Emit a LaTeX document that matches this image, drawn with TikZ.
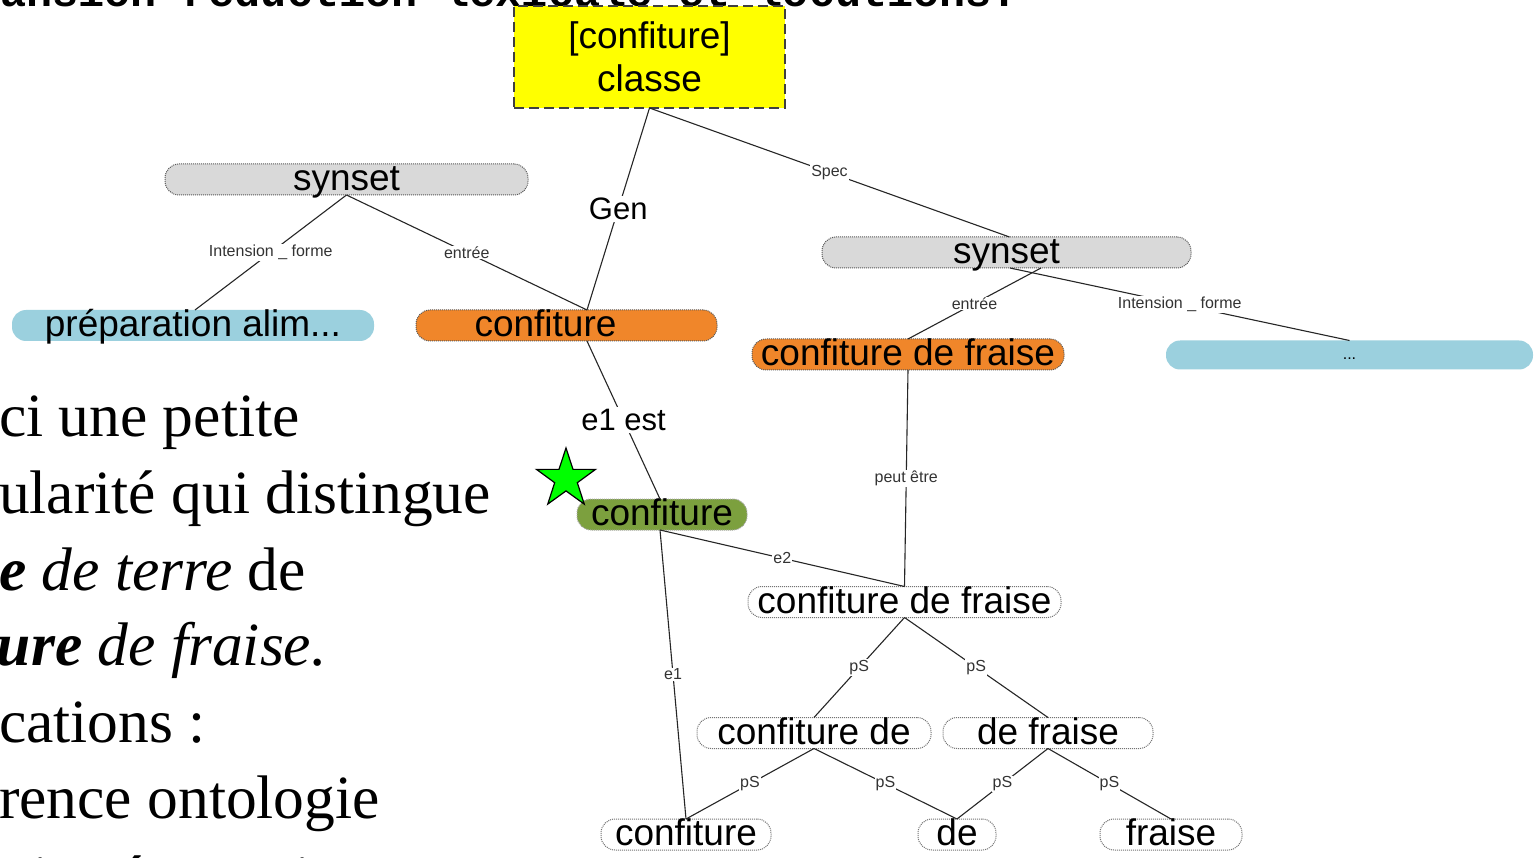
\documentclass[tikz,border=0pt]{standalone}
\usepackage{fontspec}
\setmainfont{Liberation Serif}
\newfontfamily\arialf{Liberation Sans}
\newfontfamily\monof{Liberation Mono}
\usetikzlibrary{shapes.geometric}
\definecolor{cyel}{RGB}{255,255,0}
\definecolor{cgray}{RGB}{217,217,217}
\definecolor{cblue}{RGB}{155,208,222}
\definecolor{corange}{RGB}{240,134,42}
\definecolor{cgreen}{RGB}{124,160,62}
\definecolor{cstar}{RGB}{0,255,0}
\begin{document}
\begin{tikzpicture}[x=1pt,y=-1pt,
 every node/.style={inner sep=0pt, outer sep=0pt},
 big/.style={font=\arialf\fontsize{37}{43}\selectfont, text height=26.6pt, text depth=4.4pt},
 pill/.style={big, rounded corners=14pt, minimum height=29pt},
 dotb/.style={draw=black!65, densely dotted, line width=1pt},
 graybox/.style={pill, dotb, fill=cgray},
 bluebox/.style={pill, fill=cblue},
 orangebox/.style={pill, dotb, fill=corange},
 greenbox/.style={pill, draw=black!35, densely dotted, line width=1pt, fill=cgreen},
 whitebox/.style={pill, dotb, draw=black!55},
 link/.style={draw=black!85, line width=1.1pt},
 lab/.style={fill=white, inner sep=1pt, font=\arialf\fontsize{16}{16}\selectfont, text=black!80},
 biglab/.style={fill=white, inner sep=2pt, font=\arialf\fontsize{31}{32}\selectfont},
 serif/.style={anchor=base west, font=\fontsize{61.5}{61.5}\selectfont, inner sep=0pt}
]
\useasboundingbox (0,0) rectangle (1537,858);
\fill[white] (0,0) rectangle (1537,858);

% title (cut off)
\node[anchor=base west, font=\monof\bfseries\fontsize{43.5}{44}\selectfont] (title) at (0,6.5) {ansion-réduction lexicale et locutions.};

% left text
\node[serif] (t1) at (-1,437) {ci une petite};
\node[serif] (t2) at (-1,513) {ularité qui distingue};
\node[serif] (t3) at (-1,590) {\textbf{\textit{e}} \textit{de terre} de};
\node[serif] (t4) at (-3,665) {\textbf{\textit{ure}} \textit{de fraise.}};
\node[serif] (t5) at (-1,742) {cations :};
\node[serif] (t6) at (-1,818) {rence ontologie};
\node[serif] (t7) at (32,898) {i\hspace*{68pt}\'e\hspace*{150pt}i};

% nodes
\node[draw=black!75, dashed, dash pattern=on 10pt off 5pt, line width=1.6pt, fill=cyel,
      minimum width=271pt, minimum height=102pt, align=center,
      font=\arialf\fontsize{37}{43}\selectfont] (cls) at (649.5,57) {[confiture]\\classe};
\node[graybox, minimum width=363pt] (sL) at (346.5,179.5) {synset};
\node[bluebox, minimum width=362pt] (prep) at (193,325.5) {préparation alim...};
\node[orangebox, minimum width=301pt] (conf1) at (566.5,325.5) {confiture\hspace*{42pt}};
\node[graybox, minimum width=369pt] (sR) at (1006.5,252.5) {synset};
\node[orangebox, minimum width=312pt] (cdfO) at (908,354.5) {confiture de fraise};
\node[bluebox, minimum width=367pt, font=\arialf\fontsize{16}{16}\selectfont, text height=10pt, text depth=0pt] (dots) at (1349.5,355) {...};
\node[greenbox, minimum width=170pt] (green) at (662,514.5) {confiture};
\node[whitebox, minimum width=313pt, minimum height=30pt] (cdfW) at (904.5,602) {confiture de fraise};
\node[whitebox, minimum width=234pt, minimum height=30pt] (cde) at (814,733) {confiture de};
\node[whitebox, minimum width=210pt, minimum height=30pt] (defr) at (1048,733) {de fraise};
\node[whitebox, minimum width=170pt, minimum height=31pt] (confB) at (686,834.5) {confiture};
\node[whitebox, minimum width=78pt, minimum height=31pt] (de) at (957,834.5) {de};
\node[whitebox, minimum width=142pt, minimum height=31pt] (fraise) at (1171,834.5) {fraise};

% star
\node[star, star points=5, star point ratio=2.6, minimum size=62pt, fill=cstar, draw=black, line width=1.2pt] (star) at (566,479) {};

% connectors
\draw[link] (cls.south) -- node[biglab]{Gen} ([xshift=20.5pt]conf1.north);
\draw[link] (cls.south) -- node[lab]{Spec} ([xshift=3pt]sR.north);
\draw[link] (sL.south) -- node[lab]{Intension \_ forme} ([xshift=2pt]prep.north);
\draw[link] (sL.south) -- node[lab]{entrée} ([xshift=20.5pt]conf1.north);
\draw[link] ([xshift=20.5pt]conf1.south) -- node[biglab]{e1 est} ([xshift=-2pt]green.north);
\draw[link] ([xshift=34.5pt]sR.south) -- node[lab]{entrée} (cdfO.north);
\draw[link] ([xshift=3.5pt]sR.south) -- node[lab]{Intension \_ forme} (dots.north);
\draw[link] (cdfO.south) -- node[lab]{peut être} (cdfW.north);
\draw[link] ([xshift=-2pt]green.south) -- node[lab]{e2} (cdfW.north);
\draw[link] ([xshift=-2pt]green.south) -- node[lab]{e1} (confB.north);
\draw[link] (cdfW.south) -- node[lab]{pS} (cde.north);
\draw[link] (cdfW.south) -- node[lab]{pS} (defr.north);
\draw[link] (cde.south) -- node[lab]{pS} (confB.north);
\draw[link] (cde.south) -- node[lab]{pS} (de.north);
\draw[link] (defr.south) -- node[lab]{pS} (de.north);
\draw[link] (defr.south) -- node[lab]{pS} (fraise.north);
\end{tikzpicture}
\end{document}
